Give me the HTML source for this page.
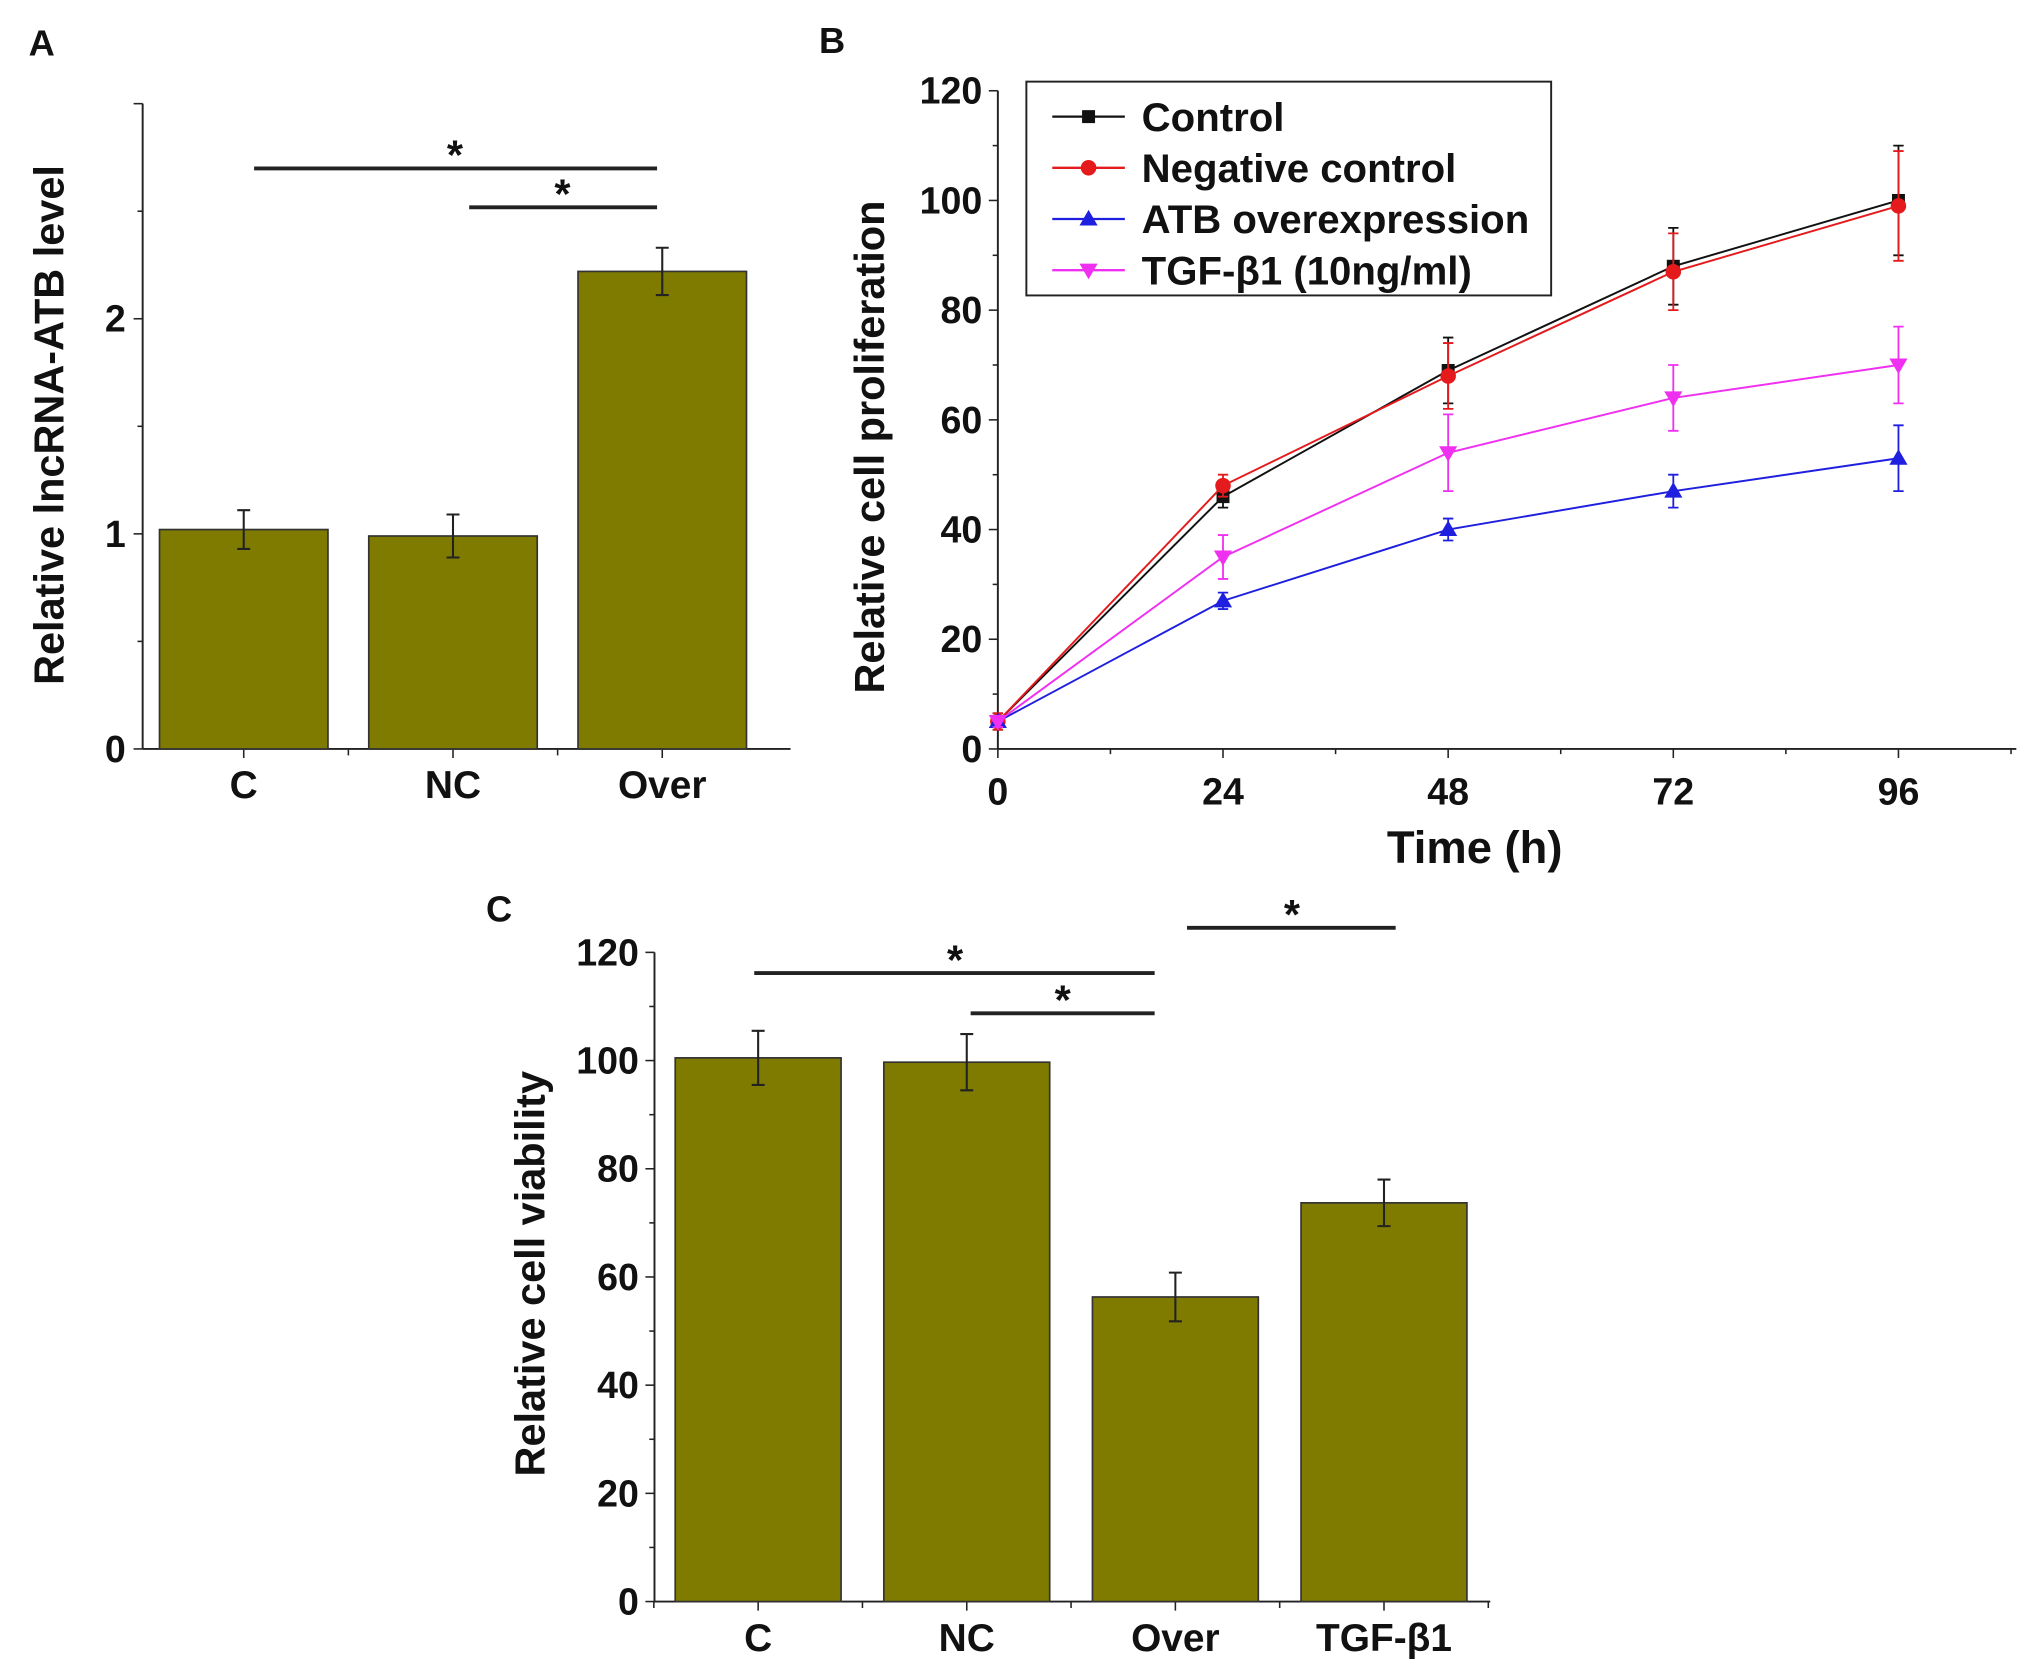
<!DOCTYPE html>
<html><head><meta charset="utf-8"><style>
html,body{margin:0;padding:0;background:#fff;}
svg{display:block;}
text{font-family:"Liberation Sans",Arial,sans-serif;font-weight:bold;fill:#111;}
</style></head><body>
<svg id="fig" width="2032" height="1678" viewBox="0 0 1568 1295" xmlns="http://www.w3.org/2000/svg">
<g id="A"></g>
<g id="B"></g>
<g id="C"></g>
</svg>
<script>
// Panel A data
const aCategories = ["C","NC","Over"];
const aValues = [1.02, 0.99, 2.22];
const aErrors = [0.09, 0.10, 0.11];
const aTicks = [0,1,2];
// Panel B data
const bTimes = [0,24,48,72,96];
const bTickLabels = ["0","24","48","72","96"];
const bYTicks = [0,20,40,60,80,100,120];
const bSeriesNames = ["Control","Negative control","ATB overexpression","TGF-β1 (10ng/ml)"];
const bControl = [5,46,69,88,100];
const bControlErr = [1.5,2,6,7,10];
const bNegative = [5,48,68,87,99];
const bNegativeErr = [1.5,2,6,7,10];
const bATB = [5,27,40,47,53];
const bATBErr = [1,1.5,2,3,6];
const bTGF = [5,35,54,64,70];
const bTGFErr = [1,4,7,6,7];
// Panel C data
const cCategories = ["C","NC","Over","TGF-β1"];
const cValues = [100.5, 99.7, 56.3, 73.7];
const cErrors = [5, 5.2, 4.5, 4.3];
const cTicks = [0,20,40,60,80,100,120];

const NS="http://www.w3.org/2000/svg";
function mk(parent, tag, attrs, txt){
  const e=document.createElementNS(NS,tag);
  for(const k in attrs) e.setAttribute(k,attrs[k]);
  if(txt!==undefined) e.textContent=txt;
  parent.appendChild(e); return e;
}
const BAR="#7f7b00", AX="#222";
const TICKF=29, TITLEF=32, CATF=30;

// ---------- Panel A ----------
(function(){
  const g=document.getElementById('A');
  const x0=110, y0=578, yTop=80, xEnd=610;
  const ys=v=>y0-v*166;
  const xc=i=>188+i*161.5;
  let t=mk(g,'text',{x:22,y:43,'font-size':28},'A');
  
  
  let l=mk(g,'line',{x1:x0,y1:yTop,x2:x0,y2:y0,stroke:AX,'stroke-width':1.5});
   
  l=mk(g,'line',{x1:x0,y1:y0,x2:xEnd,y2:y0,stroke:AX,'stroke-width':1.5});
   
  for(let v=0; v<=3.001; v+=0.5){
    const major=Math.abs(v-Math.round(v))<1e-6;
    mk(g,'line',{x1:x0-(major?7:4),y1:ys(v),x2:x0,y2:ys(v),stroke:AX,'stroke-width':1.2});
  }
  aTicks.forEach(v=>{
    const tt=mk(g,'text',{x:97,y:ys(v)+10,'font-size':TICKF,'text-anchor':'end'},String(v));
     
  });
  aCategories.forEach((c,i)=>{
    const cx=xc(i);
    mk(g,'line',{x1:cx,y1:y0,x2:cx,y2:y0+7,stroke:AX,'stroke-width':1.2});
    if(i<aCategories.length-1) mk(g,'line',{x1:cx+80.75,y1:y0,x2:cx+80.75,y2:y0+5,stroke:AX,'stroke-width':1.2});
    const r=mk(g,'rect',{x:cx-65,y:ys(aValues[i]),width:130,height:y0-ys(aValues[i]),fill:BAR,stroke:'#333','stroke-width':1.3});
     
    const e1=ys(aValues[i]+aErrors[i]), e2=ys(aValues[i]-aErrors[i]);
    const eb=mk(g,'path',{d:`M${cx-5},${e1}H${cx+5}M${cx},${e1}V${e2}M${cx-5},${e2}H${cx+5}`,stroke:'#222','stroke-width':1.6,fill:'none'});
     
    const tl=mk(g,'text',{x:cx,y:616,'font-size':CATF,'text-anchor':'middle'},c);
     
  });
  const yl=mk(g,'text',{x:0,y:0,'font-size':TITLEF,'text-anchor':'middle',transform:'translate(49,328) rotate(-90)'},'Relative lncRNA-ATB level');
   
  [[196,507,130,351],[362,507,160,434]].forEach(s=>{
    const sl=mk(g,'line',{x1:s[0],y1:s[2],x2:s[1],y2:s[2],stroke:'#222','stroke-width':3});
     
    const st=mk(g,'text',{x:s[3],y:s[2]+1,'font-size':32,'text-anchor':'middle'},'*');
     
  });
})();

// ---------- Panel B ----------
(function(){
  const g=document.getElementById('B');
  const x0=770, y0=578, yTop=70, xEnd=1556;
  const xs=h=>x0+h*7.24;
  const ys=v=>y0-v*4.233;
  let t=mk(g,'text',{x:632,y:41,'font-size':28},'B');
   
  let l=mk(g,'line',{x1:x0,y1:yTop,x2:x0,y2:y0,stroke:AX,'stroke-width':1.5});
   
  l=mk(g,'line',{x1:x0,y1:y0,x2:xEnd,y2:y0,stroke:AX,'stroke-width':1.5});
   
  for(let v=0;v<=120;v+=10){ mk(g,'line',{x1:x0-(v%20===0?7:4),y1:ys(v),x2:x0,y2:ys(v),stroke:AX,'stroke-width':1.2}); }
  for(let h=0;h<=108;h+=12){ mk(g,'line',{x1:xs(h),y1:y0,x2:xs(h),y2:y0+(h%24===0?7:4),stroke:AX,'stroke-width':1.2}); }
  bYTicks.forEach(v=>{
    const tt=mk(g,'text',{x:758,y:ys(v)+10,'font-size':TICKF,'text-anchor':'end'},String(v));
     
  });
  bTimes.forEach((h,i)=>{
    const tt=mk(g,'text',{x:xs(h),y:621,'font-size':TICKF,'text-anchor':'middle'},bTickLabels[i]);
     
  });
  let xt=mk(g,'text',{x:1138,y:666,'font-size':35,'text-anchor':'middle'},'Time (h)');
   
  let yt=mk(g,'text',{x:0,y:0,'font-size':TITLEF,'text-anchor':'middle',transform:'translate(682,345) rotate(-90)'},'Relative cell proliferation');
   

  const series=[[bControl,bControlErr,'#111','square'],[bNegative,bNegativeErr,'#e41a1c','diamond'],[bATB,bATBErr,'#1f1fe0','tri'],[bTGF,bTGFErr,'#f030f0','tridown']];
  function marker(p,x,y,shape,col){
    if(shape==='square') return mk(p,'rect',{x:x-5,y:y-5,width:10,height:10,fill:col});
    if(shape==='diamond') return mk(p,'circle',{cx:x,cy:y,r:6,fill:col});
    if(shape==='tri') return mk(p,'path',{d:`M${x},${y-7}L${x+7},${y+5}L${x-7},${y+5}Z`,fill:col});
    return mk(p,'path',{d:`M${x},${y+7}L${x+7},${y-5}L${x-7},${y-5}Z`,fill:col});
  }
  series.forEach((s,si)=>{
    const sg=mk(g,'g',{});
    
    
    const pts=bTimes.map((h,i)=>xs(h)+','+ys(s[0][i])).join(' ');
    mk(sg,'polyline',{points:pts,fill:'none',stroke:s[2],'stroke-width':1.5});
    bTimes.forEach((h,i)=>{
      const x=xs(h), v=s[0][i], e=s[1][i];
      const eb=mk(sg,'path',{d:`M${x-4},${ys(v+e)}H${x+4}M${x},${ys(v+e)}V${ys(v-e)}M${x-4},${ys(v-e)}H${x+4}`,stroke:s[2],'stroke-width':1.4,fill:'none'});
       
      const m=marker(sg,x,ys(v),s[3],s[2]);
       
    });
  });
  const lg=mk(g,'g',{});
   
  mk(lg,'rect',{x:792,y:63,width:405,height:165,fill:'#fff',stroke:'#222','stroke-width':1.5});
  series.forEach((s,si)=>{
    const y=90+si*39.5;
    const le=mk(lg,'g',{});
     
    mk(le,'line',{x1:812,y1:y,x2:868,y2:y,stroke:s[2],'stroke-width':1.8});
    marker(le,840,y,s[3],s[2]);
    mk(le,'text',{x:881,y:y+11,'font-size':31,textLength:si===2?306:null}[0]||{x:881,y:y+11,'font-size':31},bSeriesNames[si]);
  });
})();

// ---------- Panel C ----------
(function(){
  const g=document.getElementById('C');
  const x0=505, y0=1236, yTop=735, xEnd=1150;
  const ys=v=>y0-v*4.175;
  const xc=i=>585+i*161;
  let t=mk(g,'text',{x:375,y:711,'font-size':28},'C');
   
  let l=mk(g,'line',{x1:x0,y1:yTop,x2:x0,y2:y0,stroke:AX,'stroke-width':1.5});
   
  l=mk(g,'line',{x1:x0,y1:y0,x2:xEnd,y2:y0,stroke:AX,'stroke-width':1.5});
   
  for(let v=0;v<=120;v+=10){ mk(g,'line',{x1:x0-(v%20===0?7:4),y1:ys(v),x2:x0,y2:ys(v),stroke:AX,'stroke-width':1.2}); }
  cTicks.forEach(v=>{
    const tt=mk(g,'text',{x:493,y:ys(v)+10,'font-size':TICKF,'text-anchor':'end'},String(v));
     
  });
  cCategories.forEach((c,i)=>{
    const cx=xc(i);
    mk(g,'line',{x1:cx,y1:y0,x2:cx,y2:y0+7,stroke:AX,'stroke-width':1.2});
    mk(g,'line',{x1:cx-80.5,y1:y0,x2:cx-80.5,y2:y0+5,stroke:AX,'stroke-width':1.2});
    const r=mk(g,'rect',{x:cx-64,y:ys(cValues[i]),width:128,height:y0-ys(cValues[i]),fill:BAR,stroke:'#333','stroke-width':1.3});
     
    const e1=ys(cValues[i]+cErrors[i]), e2=ys(cValues[i]-cErrors[i]);
    const eb=mk(g,'path',{d:`M${cx-5},${e1}H${cx+5}M${cx},${e1}V${e2}M${cx-5},${e2}H${cx+5}`,stroke:'#222','stroke-width':1.6,fill:'none'});
     
    const tl=mk(g,'text',{x:cx,y:1274,'font-size':CATF,'text-anchor':'middle'},c);
     
  });
  mk(g,'line',{x1:xc(3)+80.5,y1:y0,x2:xc(3)+80.5,y2:y0+5,stroke:AX,'stroke-width':1.2});
  const yl=mk(g,'text',{x:0,y:0,'font-size':TITLEF,'text-anchor':'middle',transform:'translate(420,983) rotate(-90)'},'Relative cell viability');
   
  [[582,891,751,737],[749,891,782,820],[916,1077,716,997]].forEach(s=>{
    const sl=mk(g,'line',{x1:s[0],y1:s[2],x2:s[1],y2:s[2],stroke:'#222','stroke-width':3});
     
    const st=mk(g,'text',{x:s[3],y:s[2]+1,'font-size':32,'text-anchor':'middle'},'*');
     
  });
})();
</script>
</body></html>
